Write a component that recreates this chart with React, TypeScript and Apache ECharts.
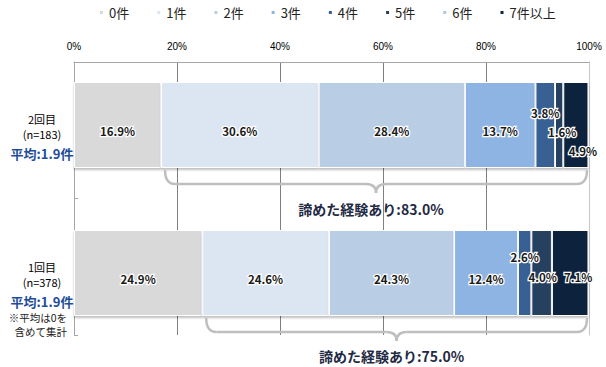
import React, { useEffect, useRef } from "react";
import * as echarts from "echarts";

// ---- data ----
const categories = ["2回目", "1回目"];
const sampleSizes = [183, 378];
const averages = [1.9, 1.9];
const seriesNames = ["0件", "1件", "2件", "3件", "4件", "5件", "6件", "7件以上"];
const share0 = [16.9, 24.9];
const share1 = [30.6, 24.6];
const share2 = [28.4, 24.3];
const share3 = [13.7, 12.4];
const share4 = [3.8, 2.6];
const share5 = [1.6, 4.0];
const share6 = [0, 0];
const share7plus = [4.9, 7.1];
const gaveUpShares = [83.0, 75.0];
const xTickValues = [0, 20, 40, 60, 80, 100];
const noteLines = ["※平均は0を", "含めて集計"];

const seriesValues = [share0, share1, share2, share3, share4, share5, share6, share7plus];

// ---- styles ----
const COLORS = ["#d9d9d9", "#dce6f2", "#b9cde5", "#8eb4e3", "#376092", "#254061", "#b3c6e7", "#11243e"];
const JP = "'Noto Sans CJK JP', 'Noto Sans', sans-serif";
const BAR_W = 86;
const BASE_OFFSET: [number, number] = [0, 6];
const LABEL_SHIFT: Record<string, [number, number]> = {
  "4-0": [0, -12],
  "5-0": [3, 7],
  "7-0": [7, 26],
  "4-1": [0, -16],
  "5-1": [1, 4],
  "7-1": [8, 4],
};

export default function App() {
  const ref = useRef<HTMLDivElement>(null);
  useEffect(() => {
    if (!ref.current) return;
    const chart = echarts.init(ref.current, undefined, { renderer: "svg" });

    const series = seriesNames.map((name, si) => ({
      name,
      type: "bar",
      stack: "total",
      xAxisIndex: 1,
      yAxisIndex: 1,
      barWidth: BAR_W,
      itemStyle: {
        color: COLORS[si],
        borderColor: "#ffffff",
        borderWidth: 1,
        shadowColor: "rgba(0,0,0,0.25)",
        shadowBlur: 2,
        shadowOffsetY: 2,
      },
      data: seriesValues[si].map((v, di) => ({
        value: v,
        label: {
          show: v > 0,
          offset: LABEL_SHIFT[`${si}-${di}`] || BASE_OFFSET,
        },
      })),
      label: {
        position: "inside",
        formatter: (p: any) => `${Number(p.value).toFixed(1)}%`,
        fontFamily: JP,
        fontSize: 11.5,
        fontWeight: "bold",
        color: "#1a1a1a",
        textBorderColor: "#ffffff",
        textBorderWidth: 2.5,
      },
    }));

    chart.setOption({
      animation: false,
      legend: {
        data: seriesNames,
        icon: "rect",
        itemWidth: 5,
        itemHeight: 5,
        itemGap: 26,
        left: 93,
        top: 1,
        textStyle: { fontFamily: JP, fontSize: 13, color: "#222" },
      },
      grid: [
        { left: 74, right: 17, top: 62, bottom: 32 },
        { left: 74, right: 17, top: 51, bottom: 20 },
      ],
      xAxis: [
        {
          gridIndex: 0,
          type: "value",
          position: "top",
          min: 0,
          max: 100,
          interval: 20,
          axisLine: { show: true, lineStyle: { color: "#a6a6a6" } },
          axisTick: { show: false },
          axisLabel: {
            margin: 11,
            formatter: (v: number) => (xTickValues.includes(v) ? `${v}%` : ""),
            fontFamily: "'Liberation Sans', sans-serif",
            fontSize: 10,
            color: "#000",
          },
          splitLine: { show: true, showMaxLine: false, lineStyle: { color: "#7f7f7f", width: 1 } },
        },
        {
          gridIndex: 1,
          type: "value",
          min: 0,
          max: 100,
          show: false,
        },
      ],
      yAxis: [
        {
          gridIndex: 0,
          type: "category",
          data: categories,
          inverse: true,
          axisLine: { show: true, lineStyle: { color: "#a6a6a6" } },
          axisTick: { show: true, inside: true, length: 4, lineStyle: { color: "#a6a6a6" } },
          axisLabel: { show: false },
        },
        {
          gridIndex: 1,
          type: "category",
          data: categories,
          inverse: true,
          axisLine: { show: false },
          axisTick: { show: false },
          axisLabel: {
            align: "center",
            margin: 32,
            padding: [26, 0, 0, 0],
            formatter: (v: string, idx: number) =>
              `{a|${v}}\n{b|(n=${sampleSizes[idx]})}\n{c|平均:${averages[idx].toFixed(1)}件}`,
            rich: {
              a: { fontFamily: JP, fontSize: 11, color: "#000", lineHeight: 15 },
              b: { fontFamily: JP, fontSize: 11, color: "#000", lineHeight: 15 },
              c: { fontFamily: JP, fontSize: 13, fontWeight: "bold", color: "#1f4e99", lineHeight: 24 },
            },
          },
        },
        {
          gridIndex: 0,
          type: "category",
          data: categories,
          position: "right",
          axisLine: { show: true, lineStyle: { color: "#c8c8c8" } },
          axisTick: { show: false },
          axisLabel: { show: false },
        },
      ],
      series,
    });

    // braces drawn from the library's scales
    const graphics: any[] = [];
    const BR = "#bfbfbf";
    categories.forEach((cat, di) => {
      const left = chart.convertToPixel({ xAxisIndex: 1, yAxisIndex: 1 } as any, [share0[di], di]) as number[];
      const right = chart.convertToPixel({ xAxisIndex: 1, yAxisIndex: 1 } as any, [100, di]) as number[];
      const yb = left[1] + BAR_W / 2;
      const x0 = left[0] + 4;
      const x1 = right[0] - 2;
      const xc = (x0 + x1) / 2;
      const yTop = yb + 2;
      const yMid = yb + 16;
      const yBot = yb + 25;
      const r = 10;
      const st = { stroke: BR, lineWidth: 2.5, fill: null };
      graphics.push(
        { type: "bezierCurve", shape: { x1: x0, y1: yTop, x2: x0 + r, y2: yMid, cpx1: x0, cpy1: yMid }, style: st, z: 10 },
        { type: "line", shape: { x1: x0 + r, y1: yMid, x2: xc - r, y2: yMid }, style: st, z: 10 },
        { type: "bezierCurve", shape: { x1: xc - r, y1: yMid, x2: xc, y2: yBot, cpx1: xc, cpy1: yMid }, style: st, z: 10 },
        { type: "bezierCurve", shape: { x1: xc, y1: yBot, x2: xc + r, y2: yMid, cpx1: xc, cpy1: yMid }, style: st, z: 10 },
        { type: "line", shape: { x1: xc + r, y1: yMid, x2: x1 - r, y2: yMid }, style: st, z: 10 },
        { type: "bezierCurve", shape: { x1: x1 - r, y1: yMid, x2: x1, y2: yTop, cpx1: x1, cpy1: yMid }, style: st, z: 10 },
        {
          type: "text",
          x: xc - 5,
          y: Math.min(yb + 41, 356),
          z: 11,
          style: {
            text: `諦めた経験あり:${gaveUpShares[di].toFixed(1)}%`,
            fontFamily: JP,
            fontSize: 14,
            fontWeight: "bold",
            fill: "#1f2a44",
            align: "center",
            verticalAlign: "middle",
            textAlign: "center",
            textVerticalAlign: "middle",
          },
        }
      );
    });
    noteLines.forEach((line, i) => {
      graphics.push({
        type: "text",
        x: 67,
        y: 317 + i * 14,
        style: {
          text: line,
          fontFamily: JP,
          fontSize: 10.5,
          fill: "#222",
          align: "right",
          verticalAlign: "middle",
          textAlign: "right",
          textVerticalAlign: "middle",
        },
      });
    });
    chart.setOption({ graphic: graphics });

    return () => chart.dispose();
  }, []);

  return (
    <div
      ref={ref}
      style={{ position: "fixed", left: 0, top: 0, width: 606, height: 367, background: "#fff" }}
    />
  );
}
